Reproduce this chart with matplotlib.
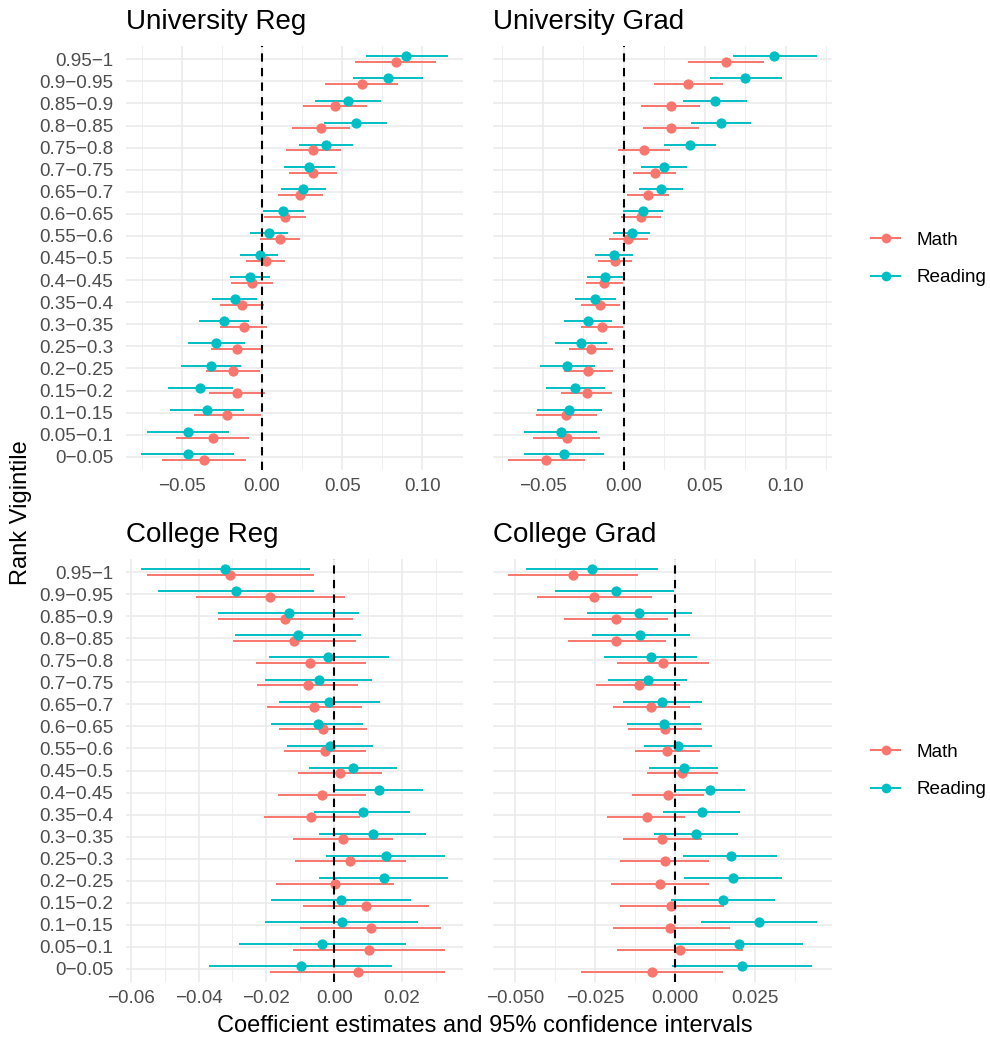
import matplotlib
matplotlib.use("Agg")
import matplotlib.pyplot as plt
from matplotlib.lines import Line2D
from matplotlib.ticker import FixedLocator, MultipleLocator
import numpy as np

plt.rcParams["font.family"] = ["Liberation Sans", "DejaVu Sans"]

# rows top -> bottom (there is no 0.5-0.55 row)
vigintiles = ["0.95\u22121", "0.9\u22120.95", "0.85\u22120.9", "0.8\u22120.85", "0.75\u22120.8",
              "0.7\u22120.75", "0.65\u22120.7", "0.6\u22120.65", "0.55\u22120.6", "0.45\u22120.5",
              "0.4\u22120.45", "0.35\u22120.4", "0.3\u22120.35", "0.25\u22120.3", "0.2\u22120.25",
              "0.15\u22120.2", "0.1\u22120.15", "0.05\u22120.1", "0\u22120.05"]

# University Reg
ur_math = [0.0833, 0.0622, 0.0455, 0.0368, 0.0320, 0.0320, 0.0238, 0.0145, 0.0114, 0.0027,
           -0.0062, -0.0122, -0.0112, -0.0157, -0.0178, -0.0155, -0.0215, -0.0308, -0.0362]
ur_math_lo = [0.0581, 0.0395, 0.0254, 0.0188, 0.0147, 0.0171, 0.0099, 0.0012, -0.0010, -0.0097,
              -0.0194, -0.0260, -0.0260, -0.0316, -0.0347, -0.0331, -0.0424, -0.0535, -0.0626]
ur_math_hi = [0.1087, 0.0849, 0.0653, 0.0548, 0.0494, 0.0469, 0.0382, 0.0275, 0.0238, 0.0145,
              0.0070, 0.0014, 0.0031, 0.0002, -0.0012, 0.0021, -0.0008, -0.0079, -0.0101]
ur_read = [0.0899, 0.0783, 0.0535, 0.0585, 0.0399, 0.0295, 0.0254, 0.0132, 0.0045, -0.0014,
           -0.0072, -0.0169, -0.0238, -0.0287, -0.0316, -0.0384, -0.0345, -0.0461, -0.0461]
ur_read_lo = [0.0647, 0.0568, 0.0333, 0.0388, 0.0233, 0.0140, 0.0116, 0.0006, -0.0076, -0.0134,
              -0.0198, -0.0312, -0.0393, -0.0463, -0.0504, -0.0583, -0.0576, -0.0715, -0.0752]
ur_read_hi = [0.1157, 0.1004, 0.0740, 0.0777, 0.0564, 0.0452, 0.0399, 0.0264, 0.0163, 0.0101,
              0.0052, -0.0031, -0.0083, -0.0107, -0.0128, -0.0180, -0.0112, -0.0207, -0.0174]

# University Grad
ug_math = [0.0630, 0.0399, 0.0289, 0.0291, 0.0124, 0.0192, 0.0149, 0.0105, 0.0029, -0.0052,
           -0.0122, -0.0145, -0.0136, -0.0200, -0.0221, -0.0229, -0.0355, -0.0353, -0.0479]
ug_math_lo = [0.0397, 0.0190, 0.0107, 0.0122, -0.0033, 0.0060, 0.0019, -0.0014, -0.0089, -0.0157,
              -0.0233, -0.0264, -0.0262, -0.0341, -0.0372, -0.0386, -0.0543, -0.0560, -0.0713]
ug_math_hi = [0.0868, 0.0614, 0.0473, 0.0463, 0.0283, 0.0324, 0.0277, 0.0229, 0.0147, 0.0054,
              -0.0006, -0.0025, -0.0006, -0.0064, -0.0068, -0.0070, -0.0165, -0.0145, -0.0240]
ug_read = [0.0930, 0.0750, 0.0564, 0.0599, 0.0409, 0.0250, 0.0229, 0.0116, 0.0048, -0.0062,
           -0.0118, -0.0176, -0.0223, -0.0262, -0.0351, -0.0302, -0.0337, -0.0388, -0.0368]
ug_read_lo = [0.0676, 0.0531, 0.0366, 0.0413, 0.0250, 0.0105, 0.0093, -0.0002, -0.0068, -0.0178,
              -0.0229, -0.0304, -0.0372, -0.0426, -0.0517, -0.0481, -0.0539, -0.0616, -0.0614]
ug_read_hi = [0.1192, 0.0977, 0.0760, 0.0787, 0.0572, 0.0393, 0.0368, 0.0244, 0.0161, 0.0058,
              -0.0002, -0.0045, -0.0072, -0.0103, -0.0180, -0.0118, -0.0132, -0.0163, -0.0122]

# College Reg
cr_math = [-0.0306, -0.0188, -0.0145, -0.0118, -0.0070, -0.0078, -0.0059, -0.0034, -0.0026, 0.0018,
           -0.0036, -0.0067, 0.0026, 0.0047, 0.0002, 0.0093, 0.0108, 0.0103, 0.0069]
cr_math_lo = [-0.0552, -0.0409, -0.0344, -0.0297, -0.0230, -0.0228, -0.0199, -0.0164, -0.0149, -0.0106,
              -0.0167, -0.0206, -0.0121, -0.0115, -0.0173, -0.0091, -0.0100, -0.0121, -0.0189]
cr_math_hi = [-0.0060, 0.0032, 0.0056, 0.0065, 0.0093, 0.0071, 0.0081, 0.0097, 0.0094, 0.0140,
              0.0094, 0.0075, 0.0174, 0.0211, 0.0176, 0.0279, 0.0315, 0.0328, 0.0326]
cr_read = [-0.0321, -0.0289, -0.0132, -0.0107, -0.0017, -0.0046, -0.0015, -0.0049, -0.0012, 0.0057,
           0.0132, 0.0085, 0.0114, 0.0152, 0.0146, 0.0020, 0.0022, -0.0036, -0.0099]
cr_read_lo = [-0.0569, -0.0519, -0.0342, -0.0293, -0.0193, -0.0205, -0.0164, -0.0185, -0.0138, -0.0074,
              0.0003, -0.0058, -0.0046, -0.0023, -0.0044, -0.0185, -0.0203, -0.0282, -0.0368]
cr_read_hi = [-0.0072, -0.0058, 0.0074, 0.0078, 0.0162, 0.0111, 0.0134, 0.0084, 0.0115, 0.0184,
              0.0262, 0.0225, 0.0272, 0.0326, 0.0335, 0.0226, 0.0246, 0.0211, 0.0172]

# College Grad
cg_math = [-0.0319, -0.0255, -0.0186, -0.0184, -0.0040, -0.0115, -0.0076, -0.0032, -0.0025, 0.0022,
           -0.0023, -0.0090, -0.0041, -0.0031, -0.0048, -0.0014, -0.0015, 0.0016, -0.0074]
cg_math_lo = [-0.0522, -0.0434, -0.0349, -0.0337, -0.0183, -0.0248, -0.0196, -0.0147, -0.0127, -0.0088,
              -0.0134, -0.0214, -0.0165, -0.0174, -0.0200, -0.0173, -0.0194, -0.0181, -0.0296]
cg_math_hi = [-0.0116, -0.0074, -0.0022, -0.0030, 0.0104, 0.0016, 0.0045, 0.0082, 0.0077, 0.0134,
              0.0091, 0.0031, 0.0085, 0.0107, 0.0106, 0.0152, 0.0171, 0.0213, 0.0150]
cg_read = [-0.0260, -0.0186, -0.0112, -0.0109, -0.0077, -0.0086, -0.0042, -0.0035, 0.0009, 0.0027,
           0.0108, 0.0082, 0.0064, 0.0174, 0.0181, 0.0150, 0.0263, 0.0200, 0.0208]
cg_read_lo = [-0.0468, -0.0376, -0.0277, -0.0262, -0.0222, -0.0210, -0.0165, -0.0152, -0.0098, -0.0082,
              0.0001, -0.0037, -0.0068, 0.0025, 0.0027, -0.0014, 0.0079, 0.0003, -0.0009]
cg_read_hi = [-0.0054, -0.0005, 0.0053, 0.0045, 0.0068, 0.0038, 0.0082, 0.0081, 0.0116, 0.0135,
              0.0218, 0.0201, 0.0197, 0.0319, 0.0333, 0.0313, 0.0442, 0.0401, 0.0427]

math_col = "#F8766D"
read_col = "#00BFC4"
grid_col = "#EBEBEB"
W, H = 990, 1038

fig = plt.figure(figsize=(W / 100, H / 100), dpi=100)


def panel(px, title, math, math_lo, math_hi, read, read_lo, read_hi, ticks, ticklabels, minor, show_y):
    x0, y0, x1, y1 = px
    ax = fig.add_axes([x0 / W, 1 - y1 / H, (x1 - x0) / W, (y1 - y0) / H])
    n = len(vigintiles)
    y = np.arange(n)[::-1]

    for est, lo, hi, col, off in [(math, math_lo, math_hi, math_col, -0.13),
                                  (read, read_lo, read_hi, read_col, 0.13)]:
        ax.hlines(y + off, lo, hi, color=col, lw=1.4, zorder=3)
        ax.plot(est, y + off, "o", color=col, markersize=7.4, markeredgewidth=0, zorder=4)

    ax.axvline(0, color="black", lw=1.5, linestyle=(0, (4, 3)), zorder=5)

    lo_all = min(min(math_lo), min(read_lo))
    hi_all = max(max(math_hi), max(read_hi))
    pad = (hi_all - lo_all) * 0.05
    ax.set_xlim(lo_all - pad, hi_all + pad)
    ax.set_ylim(-0.6, n - 0.4)

    ax.xaxis.set_major_locator(FixedLocator(ticks))
    ax.set_xticklabels(ticklabels)
    ax.xaxis.set_minor_locator(MultipleLocator(minor))
    ax.set_yticks(y)
    ax.set_yticklabels(vigintiles if show_y else [])

    ax.grid(True, which="minor", axis="x", color=grid_col, lw=0.6, zorder=0)
    ax.grid(True, which="major", color=grid_col, lw=1.2, zorder=0)
    ax.set_axisbelow(True)
    for s in ax.spines.values():
        s.set_visible(False)
    ax.tick_params(which="both", length=0, labelsize=13.6, labelcolor="#4D4D4D")
    ax.tick_params(axis="x", pad=6)
    ax.tick_params(axis="y", pad=9)
    ax.set_title(title, loc="left", fontsize=20, pad=12)
    return ax


uni_ticks = [-0.05, 0.0, 0.05, 0.10]
uni_labels = ["\u22120.05", "0.00", "0.05", "0.10"]

panel((126, 46, 463, 470), "University Reg", ur_math, ur_math_lo, ur_math_hi,
      ur_read, ur_read_lo, ur_read_hi, uni_ticks, uni_labels, 0.025, True)
panel((493, 46, 832, 470), "University Grad", ug_math, ug_math_lo, ug_math_hi,
      ug_read, ug_read_lo, ug_read_hi, uni_ticks, uni_labels, 0.025, False)
panel((126, 559, 463, 982), "College Reg", cr_math, cr_math_lo, cr_math_hi,
      cr_read, cr_read_lo, cr_read_hi, [-0.06, -0.04, -0.02, 0.0, 0.02],
      ["\u22120.06", "\u22120.04", "\u22120.02", "0.00", "0.02"], 0.01, True)
panel((493, 559, 832, 982), "College Grad", cg_math, cg_math_lo, cg_math_hi,
      cg_read, cg_read_lo, cg_read_hi, [-0.05, -0.025, 0.0, 0.025],
      ["\u22120.050", "\u22120.025", "0.000", "0.025"], 0.0125, False)

handles = [Line2D([], [], color=math_col, lw=1.5, marker="o", markersize=7, markeredgewidth=0),
           Line2D([], [], color=read_col, lw=1.5, marker="o", markersize=7, markeredgewidth=0)]
for yc in [259, 771]:
    fig.legend(handles, ["Math", "Reading"], loc="center left",
               bbox_to_anchor=(871 / W, 1 - yc / H), frameon=False, fontsize=13.6,
               handlelength=1.55, handletextpad=0.85, labelspacing=1.08,
               borderaxespad=0, borderpad=0)

fig.text(21 / W, 1 - 513 / H, "Rank Vigintile", rotation=90, fontsize=17,
         ha="center", va="center")
fig.text(485 / W, 1 - 1026 / H, "Coefficient estimates and 95% confidence intervals",
         fontsize=17, ha="center", va="center")

fig.savefig("out.png", dpi=100)
